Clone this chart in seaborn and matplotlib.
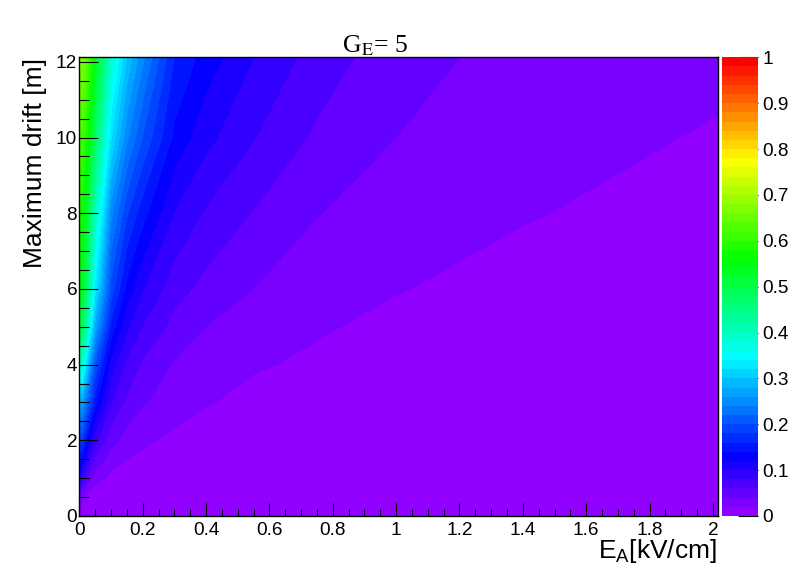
import colorsys
import numpy as np
import matplotlib
matplotlib.use("Agg")
import matplotlib.pyplot as plt
from matplotlib.colors import ListedColormap, BoundaryNorm
from matplotlib.ticker import MultipleLocator, FuncFormatter
import seaborn as sns

sns.set_theme(style="white")
plt.rcParams["font.family"] = ["Liberation Sans", "DejaVu Sans"]
plt.rcParams["mathtext.fontset"] = "custom"
plt.rcParams["mathtext.rm"] = "Liberation Sans"
plt.rcParams["mathtext.it"] = "Liberation Sans:italic"
plt.rcParams["mathtext.bf"] = "Liberation Sans:bold"

# ---- data -----------------------------------------------------------------
e_field = [0, 0.01, 0.025, 0.05, 0.1, 0.15, 0.2, 0.3, 0.4, 0.55, 0.75, 1.0, 1.4, 2.02]   # kV/cm
drift = [0, 0.5, 1, 1.5, 2, 3, 4, 5, 6, 8, 10, 12.12]                                    # m

z_d0 = [0, 0, 0, 0, 0, 0, 0, 0, 0, 0, 0, 0, 0, 0]
z_d05 = [0.050, 0.0257, 0.0117, 0.0060, 0.0030, 0.0020, 0.0015, 0.0010, 0.00075, 0.00055, 0.0004, 0.0003, 0.0002, 0.00015]
z_d1 = [0.100, 0.0832, 0.0514, 0.0287, 0.0148, 0.0100, 0.0075, 0.0050, 0.0038, 0.0027, 0.0020, 0.0015, 0.0011, 0.0007]
z_d15 = [0.150, 0.134, 0.0937, 0.0557, 0.0294, 0.0198, 0.0149, 0.0100, 0.0075, 0.0055, 0.0040, 0.0030, 0.0021, 0.0015]
z_d2 = [0.190, 0.177, 0.135, 0.0857, 0.0465, 0.0316, 0.0238, 0.0159, 0.0120, 0.0087, 0.0064, 0.0048, 0.0034, 0.0024]
z_d3 = [0.280, 0.266, 0.216, 0.145, 0.0813, 0.0555, 0.0420, 0.0282, 0.0212, 0.0155, 0.0113, 0.0085, 0.0061, 0.0042]
z_d4 = [0.400, 0.378, 0.302, 0.199, 0.1105, 0.0753, 0.0569, 0.0382, 0.0290, 0.0215, 0.0175, 0.0125, 0.0085, 0.0059]
z_d5 = [0.510, 0.486, 0.399, 0.271, 0.153, 0.104, 0.079, 0.053, 0.040, 0.029, 0.0215, 0.0165, 0.0116, 0.0080]
z_d6 = [0.550, 0.531, 0.457, 0.329, 0.192, 0.133, 0.101, 0.068, 0.0535, 0.0399, 0.0286, 0.0207, 0.0148, 0.0103]
z_d8 = [0.580, 0.567, 0.512, 0.398, 0.247, 0.183, 0.148, 0.099, 0.0775, 0.0588, 0.0408, 0.029, 0.0210, 0.0138]
z_d10 = [0.620, 0.612, 0.573, 0.478, 0.322, 0.245, 0.199, 0.135, 0.106, 0.081, 0.0563, 0.040, 0.0271, 0.0182]
z_d12 = [0.670, 0.663, 0.631, 0.546, 0.385, 0.298, 0.245, 0.160, 0.131, 0.100, 0.071, 0.048, 0.0320, 0.0245]

cbar_ticks = [0, 0.1, 0.2, 0.3, 0.4, 0.5, 0.6, 0.7, 0.8, 0.9, 1.0]
title_text = r"G$_{\mathrm{E}}$= 5"
x_title = r"E$_{\mathrm{A}}$[kV/cm]"
y_title = "Maximum drift [m]"
# ---------------------------------------------------------------------------

Z = np.array([z_d0, z_d05, z_d1, z_d15, z_d2, z_d3, z_d4, z_d5, z_d6, z_d8, z_d10, z_d12])

# ROOT "pretty" palette: 50 HLS colours, hue 280 -> 0
n_col = 50
palette = sns.color_palette([colorsys.hls_to_rgb((280 - (i + 1) * 280 / n_col) / 360, 0.5, 1.0)
                             for i in range(n_col)])
cmap = ListedColormap(palette)
levels = np.linspace(0, 1, n_col + 1)
norm = BoundaryNorm(levels, n_col)

W, H = 798, 574
fig = plt.figure(figsize=(W / 100, H / 100), dpi=100)
fig.patch.set_facecolor("white")

left, right, top, bottom = 79.3, 718, 57.3, 516
ax = fig.add_axes([left / W, (H - bottom) / H, (right - left) / W, (bottom - top) / H])
cs = ax.contourf(e_field, drift, Z, levels=levels, cmap=cmap, norm=norm, antialiased=False)

ax.set_xlim(0, 2.016)
ax.set_ylim(0, 12.12)
ax.xaxis.set_major_locator(MultipleLocator(0.2))
ax.xaxis.set_minor_locator(MultipleLocator(0.05))
ax.yaxis.set_major_locator(MultipleLocator(2))
ax.yaxis.set_minor_locator(MultipleLocator(0.5))
fmt = FuncFormatter(lambda v, p: f"{v:g}")
ax.xaxis.set_major_formatter(fmt)
ax.yaxis.set_major_formatter(fmt)
ax.tick_params(which="both", direction="in", bottom=True, left=True, top=False, right=False,
               color="black", width=0.8, labelcolor="black")
ax.tick_params(axis="x", which="major", length=9.6, pad=4, labelsize=13.7)
ax.tick_params(axis="x", which="minor", length=5)
ax.tick_params(axis="y", which="major", length=13.7, pad=1.5, labelsize=13.7)
ax.tick_params(axis="y", which="minor", length=7.2)
for s in ax.spines.values():
    s.set_color("black")
    s.set_linewidth(1.0)
    s.set_zorder(5)
ax.set_axisbelow(False)

cax = fig.add_axes([722 / W, (H - bottom) / H, 36 / W, (bottom - top) / H])
cb = fig.colorbar(cs, cax=cax, ticks=cbar_ticks)
cb.outline.set_visible(False)
cax.minorticks_off()
cax.yaxis.set_major_formatter(fmt)
cax.tick_params(axis="y", which="major", direction="in", right=True, left=False, length=14.4,
                width=0.8, color="black", labelcolor="black", labelsize=13.7, pad=3)

fig.text(375 / W, (H - 52) / H, title_text, ha="center", va="baseline", fontsize=18.5,
         family="Liberation Serif", math_fontfamily="stix", color="black")
fig.text(717 / W, (H - 558) / H, x_title, ha="right", va="baseline", fontsize=19, color="black")
fig.text(35 / W, (H - 57.5) / H, y_title, rotation=90, ha="center", va="top", fontsize=19,
         color="black")

fig.savefig("out.png", dpi=100, facecolor="white")
